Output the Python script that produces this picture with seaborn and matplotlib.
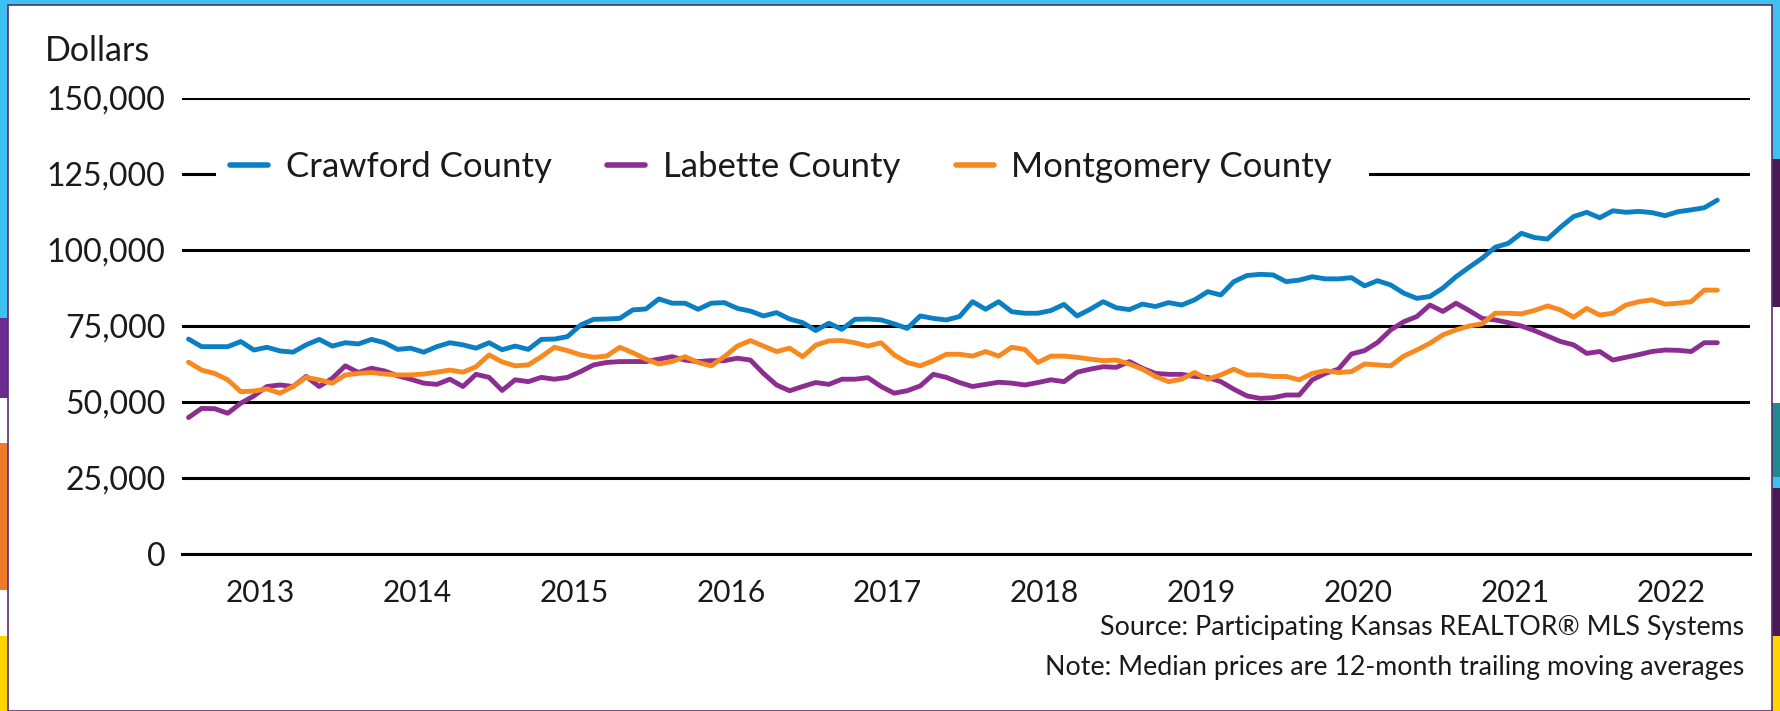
import numpy as np
import pandas as pd
import matplotlib
matplotlib.use("Agg")
import matplotlib.pyplot as plt
import matplotlib.ticker as mticker
from matplotlib.patches import Rectangle
import seaborn as sns

# ---------------- data (monthly 12-month trailing median prices, dollars) ----------------
start_year = 2013
n_months = 118  # Jan 2013 .. Oct 2022

crawford = [70700, 68200, 68200, 68200, 69900, 67100, 68000, 66800, 66400, 68800, 70600, 68400,
            69500, 69100, 70600, 69500, 67300, 67700, 66400, 68200, 69500, 68800, 67700, 69500,
            67200, 68400, 67300, 70600, 70700, 71500, 75300, 77200, 77300, 77500, 80300, 80600,
            83900, 82500, 82500, 80500, 82500, 82700, 80800, 79900, 78300, 79400, 77300, 76100,
            73500, 75900, 73900, 77200, 77300, 77000, 75700, 74200, 78300, 77500, 77000, 78100,
            83000, 80500, 83000, 79700, 79200, 79200, 80100, 82100, 78300, 80500, 83000, 81000,
            80400, 82200, 81400, 82700, 81900, 83600, 86300, 85200, 89600, 91600, 92000, 91800,
            89600, 90100, 91200, 90500, 90500, 90900, 88200, 89900, 88500, 85800, 84100, 84700,
            87500, 91200, 94300, 97300, 100900, 102200, 105500, 104100, 103600, 107500, 111000, 112400,
            110600, 112900, 112400, 112700, 112300, 111300, 112600, 113200, 113900, 116400]

labette = [44900, 47900, 47800, 46300, 49600, 52000, 55100, 55600, 55100, 58400, 55100, 57800,
           61900, 59700, 61100, 60200, 58600, 57500, 56200, 55800, 57500, 55100, 59100, 58100,
           53800, 57300, 56700, 58100, 57500, 58100, 60000, 62200, 63000, 63300, 63300, 63300,
           64100, 64900, 63800, 63300, 63600, 63600, 64400, 63800, 59400, 55600, 53700, 55100,
           56400, 55800, 57500, 57500, 58000, 55100, 52900, 53700, 55300, 59100, 58100, 56400,
           55100, 55800, 56500, 56200, 55600, 56400, 57300, 56700, 59800, 60800, 61600, 61400,
           63300, 61100, 59400, 59100, 59100, 58400, 58100, 56700, 54200, 52000, 51200, 51400,
           52300, 52300, 57300, 59400, 60800, 65800, 66900, 69600, 73700, 76400, 78100, 81900,
           79800, 82500, 80100, 77500, 77000, 76100, 75000, 73500, 71700, 69900, 68800, 66000,
           66600, 63800, 64700, 65600, 66600, 67100, 67000, 66600, 69500, 69500]

montgomery = [63100, 60500, 59400, 57300, 53400, 53600, 54300, 52900, 55100, 58100, 57300, 56200,
              58900, 59400, 59700, 59200, 58900, 58900, 59200, 59800, 60500, 59800, 61600, 65500,
              63200, 61900, 62200, 64900, 68000, 66900, 65500, 64700, 65100, 68000, 66200, 64100,
              62500, 63300, 64900, 63000, 61900, 64900, 68400, 70200, 68400, 66600, 67700, 64900,
              68700, 70100, 70200, 69500, 68400, 69500, 65500, 63000, 61900, 63600, 65700, 65700,
              65100, 66600, 65100, 68000, 67300, 63000, 65100, 65100, 64700, 64100, 63600, 63800,
              62500, 60800, 58400, 56700, 57500, 59700, 57500, 58900, 60800, 58900, 58900, 58400,
              58400, 57300, 59400, 60300, 59700, 60000, 62500, 62200, 61900, 65100, 67100, 69300,
              72100, 73700, 75000, 75700, 79200, 79200, 79000, 80100, 81600, 80300, 77900, 80800,
              78600, 79200, 81900, 83000, 83600, 82200, 82500, 83000, 86800, 86800]

series_names = ["Crawford County", "Labette County", "Montgomery County"]
series_colors = ["#0a7fc4", "#8c2d91", "#f7891f"]
year_labels = [str(y) for y in range(2013, 2023)]
y_ticks = [0, 25000, 50000, 75000, 100000, 125000, 150000]

# ---------------- build long table ----------------
months = pd.date_range(f"{start_year}-01-01", periods=n_months, freq="MS")
xpos = months.year + (months.month - 0.5) / 12.0
frames = []
for name, vals in zip(series_names, [crawford, labette, montgomery]):
    frames.append(pd.DataFrame({"t": xpos, "price": vals, "county": name}))
df = pd.concat(frames, ignore_index=True)

# ---------------- figure ----------------
sns.set_theme(style="white")
plt.rcParams["font.family"] = ["Lato", "DejaVu Sans"]

W, H = 1781, 711
fig = plt.figure(figsize=(W / 100, H / 100), dpi=100, facecolor="#3ec1f0")

# decorative side slivers (hexagon background)
for (x0, x1, y0, y1, c) in [
    (0, 8, 318, 398, "#6a2c8f"), (0, 8, 398, 443, "#ffffff"), (0, 8, 443, 590, "#f07a2a"),
    (0, 8, 590, 636, "#ffffff"), (0, 8, 636, 711, "#ffd400"),
    (1772, 1781, 159, 307, "#4a1a55"), (1772, 1781, 307, 403, "#ffffff"),
    (1772, 1781, 403, 477, "#1f8a8f"), (1772, 1781, 488, 636, "#4a1a55"),
    (1772, 1781, 636, 711, "#ffd400"),
]:
    fig.patches.append(Rectangle((x0 / W, 1 - y1 / H), (x1 - x0) / W, (y1 - y0) / H,
                                 transform=fig.transFigure, facecolor=c, edgecolor="none", zorder=0))
# white card
fig.patches.append(Rectangle((8 / W, 0), (1772 - 8) / W, (711 - 5) / H, transform=fig.transFigure,
                             facecolor="white", edgecolor="#5a2d6e", linewidth=1.2, zorder=1))

ax_left, ax_right = 182 / W, 1750 / W
ax_bottom, ax_top = 1 - 554 / H, 1 - 98 / H
ax = fig.add_axes([ax_left, ax_bottom, ax_right - ax_left, ax_top - ax_bottom])
ax.set_facecolor("none")
ax.set_zorder(2)

sns.lineplot(data=df, x="t", y="price", hue="county", hue_order=series_names,
             palette=dict(zip(series_names, series_colors)), linewidth=3.5, ax=ax,
             legend=True, zorder=3)

ax.set_xlim(2013, 2023)
ax.set_ylim(0, 150000)
ax.set_yticks(y_ticks)
ax.yaxis.set_major_formatter(mticker.FuncFormatter(lambda v, p: f"{v:,.0f}"))
ax.grid(axis="y", color="black", linewidth=2.2, zorder=1)
ax.grid(axis="x", visible=False)
ax.set_axisbelow(True)

for s in ["left", "right", "top"]:
    ax.spines[s].set_visible(False)
ax.spines["bottom"].set_color("black")
ax.spines["bottom"].set_linewidth(2.2)

ax.set_xticks(list(range(2013, 2024)))
ax.set_xticklabels([])
ax.set_xticks([y + 0.5 for y in range(2013, 2023)], minor=True)
ax.set_xticklabels(year_labels, minor=True)
ax.tick_params(axis="x", which="major", direction="inout", length=18, width=1.6, color="black")
ax.tick_params(axis="x", which="minor", length=0, pad=18, labelsize=21.5, labelcolor="#1a1a1a")
ax.tick_params(axis="y", length=0, pad=12, labelsize=23, labelcolor="#1a1a1a")
ax.set_xlabel("")
ax.set_ylabel("")

# white band behind the legend, interrupting the 125,000 gridline
ax.add_patch(Rectangle((0.022, 125000 / 150000 - 0.03), 0.757 - 0.022, 0.06,
                       transform=ax.transAxes, facecolor="white", edgecolor="none", zorder=1.5))

leg = ax.legend(loc="center", bbox_to_anchor=(0.382, 125000 / 150000 + 0.016), ncol=3,
                frameon=False, fontsize=25, handlelength=1.1, handletextpad=0.5,
                columnspacing=1.6, borderpad=0.2, borderaxespad=0)
for h in leg.get_lines():
    h.set_linewidth(4)
for t in leg.get_texts():
    t.set_color("#1a1a1a")

fig.text(45 / W, 1 - 51 / H, "Dollars", fontsize=24.5, ha="left", va="center", color="#1a1a1a")
fig.text(1744 / W, 1 - 627 / H, "Source: Participating Kansas REALTOR\u00ae MLS Systems",
         fontsize=19.3, ha="right", va="center", color="#1a1a1a")
fig.text(1744 / W, 1 - 667 / H, "Note: Median prices are 12-month trailing moving averages",
         fontsize=19.3, ha="right", va="center", color="#1a1a1a")

fig.savefig("out.png", dpi=100, facecolor=fig.get_facecolor())
